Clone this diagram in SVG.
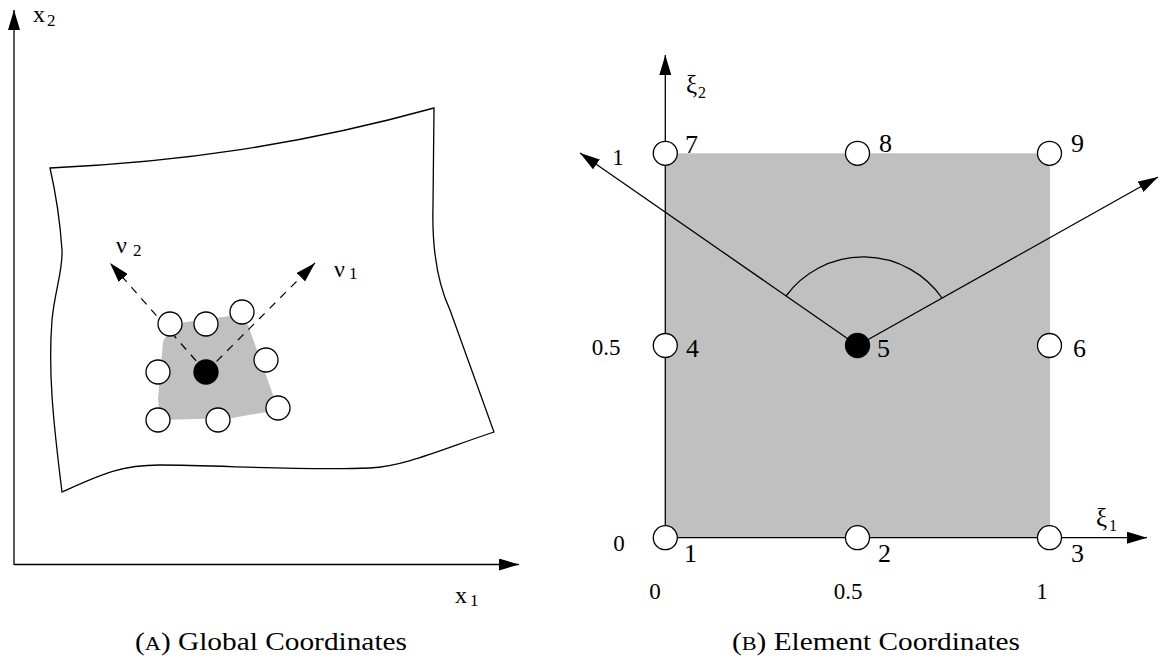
<svg xmlns="http://www.w3.org/2000/svg" width="1160" height="661" viewBox="0 0 1160 661">
<style>
.ln{fill:none;stroke:#000;stroke-width:1.3}
.dash{fill:none;stroke:#000;stroke-width:1.2;stroke-dasharray:8 7}
.nd{fill:#fff;stroke:#000;stroke-width:1.3}
.bk{fill:#000;stroke:#000;stroke-width:1.3}
.gray{fill:#c0c0c0;stroke:none}
.t{font-family:"Liberation Serif","Times New Roman",serif;fill:#000}
.lab{font-size:26px}
.val{font-size:23px}
.sub{font-size:17px}
.cap{font-size:25px}
</style>
<defs>
<marker id="ah" viewBox="0 0 20 12" refX="20" refY="6" markerWidth="20" markerHeight="12" markerUnits="userSpaceOnUse" orient="auto">
<path d="M0,0 L20,6 L0,12 z" fill="#000"/>
</marker>
</defs>

<!-- LEFT PANEL -->
<g id="region">
<path class="ln" d="M50,168 C180,162 300,145 434,108 L433,205 C432,240 436,280 450,310 L494,432 C440,450 405,466 370,468 C300,471 220,465 160,465 C120,465 100,475 62,492 C53,420 48,370 52,320 C55,290 63,270 62,250 C60,220 55,190 50,168 Z"/>
</g>
<g id="patch">
<polygon class="gray" points="172,324 230,316 248,325 272,392 278,410 232,418 160,420 158,398 163,342"/>
</g>

<g id="connectors">
<line class="ln" x1="14" y1="565" x2="14" y2="10" marker-end="url(#ah)"/>
<line class="ln" x1="14" y1="564.5" x2="519" y2="564.5" marker-end="url(#ah)"/>
<line class="dash" x1="206" y1="372" x2="110" y2="263" marker-end="url(#ah)"/>
<line class="dash" x1="206" y1="372" x2="315" y2="263" marker-end="url(#ah)"/>
</g>

<g id="global-nodes">
<circle class="nd" cx="170" cy="324" r="12"/>
<circle class="nd" cx="206" cy="324" r="12"/>
<circle class="nd" cx="242" cy="312" r="12"/>
<circle class="nd" cx="158" cy="372" r="12"/>
<circle class="bk" cx="206" cy="372" r="12"/>
<circle class="nd" cx="266" cy="360" r="12"/>
<circle class="nd" cx="158" cy="420" r="12"/>
<circle class="nd" cx="218" cy="420" r="12"/>
<circle class="nd" cx="278" cy="408" r="12"/>
</g>

<g id="left-labels">
<text class="t" x="33" y="22" font-size="24">x</text>
<text class="t sub" x="47" y="26">2</text>
<text class="t" x="455" y="603" font-size="24">x</text>
<text class="t sub" x="470" y="606">1</text>
<text class="t" x="116" y="253" font-size="24">ν</text>
<text class="t sub" x="133" y="256">2</text>
<text class="t" x="334" y="277" font-size="24">ν</text>
<text class="t sub" x="349" y="279">1</text>
<text class="t cap" x="135" y="650" textLength="272" lengthAdjust="spacingAndGlyphs">(<tspan font-size="19">A</tspan>) Global Coordinates</text>
</g>

<!-- RIGHT PANEL -->
<g id="element">
<rect class="gray" x="665.3" y="153.3" width="384.7" height="384.4"/>
</g>

<g id="connectors-right">
<path class="ln" d="M786,296 A96,96 0 0 1 942,298"/>
<line class="ln" x1="857.5" y1="345.5" x2="580" y2="153" marker-end="url(#ah)"/>
<line class="ln" x1="857.5" y1="345.5" x2="1158" y2="177" marker-end="url(#ah)"/>
<line class="ln" x1="665.3" y1="537.7" x2="665.3" y2="55" marker-end="url(#ah)"/>
<line class="ln" x1="665.3" y1="537.7" x2="1147" y2="537.7" marker-end="url(#ah)"/>
</g>

<g id="n7"><circle class="nd" cx="665.3" cy="153.3" r="12"/><text class="t lab" x="685" y="153">7</text></g>
<g id="n8"><circle class="nd" cx="857.5" cy="153.3" r="12"/><text class="t lab" x="879" y="152">8</text></g>
<g id="n9"><circle class="nd" cx="1049.5" cy="153.3" r="12"/><text class="t lab" x="1071" y="152">9</text></g>
<g id="n4"><circle class="nd" cx="665.3" cy="345.5" r="12"/><text class="t lab" x="686" y="357">4</text></g>
<g id="n5"><circle class="bk" cx="857.5" cy="345.5" r="12"/><text class="t lab" x="877" y="357">5</text></g>
<g id="n6"><circle class="nd" cx="1049.5" cy="345.5" r="12"/><text class="t lab" x="1073" y="357">6</text></g>
<g id="n1"><circle class="nd" cx="665.3" cy="537.7" r="12"/><text class="t lab" x="684" y="562">1</text></g>
<g id="n2"><circle class="nd" cx="857.5" cy="537.7" r="12"/><text class="t lab" x="878" y="562">2</text></g>
<g id="n3"><circle class="nd" cx="1049.5" cy="537.7" r="12"/><text class="t lab" x="1071" y="562">3</text></g>

<g id="right-labels">
<text class="t" x="686" y="93" font-size="25">ξ</text>
<text class="t" x="698" y="98" font-size="16">2</text>
<text class="t" x="1096" y="526" font-size="25">ξ</text>
<text class="t" x="1109" y="531" font-size="16">1</text>
<text class="t val" x="618" y="165" text-anchor="middle">1</text>
<text class="t val" x="606" y="355" text-anchor="middle">0.5</text>
<text class="t val" x="619" y="551" text-anchor="middle">0</text>
<text class="t val" x="655" y="599" text-anchor="middle">0</text>
<text class="t val" x="848" y="599" text-anchor="middle">0.5</text>
<text class="t val" x="1042" y="599" text-anchor="middle">1</text>
<text class="t cap" x="732" y="650" textLength="288" lengthAdjust="spacingAndGlyphs">(<tspan font-size="19">B</tspan>) Element Coordinates</text>
</g>
</svg>
